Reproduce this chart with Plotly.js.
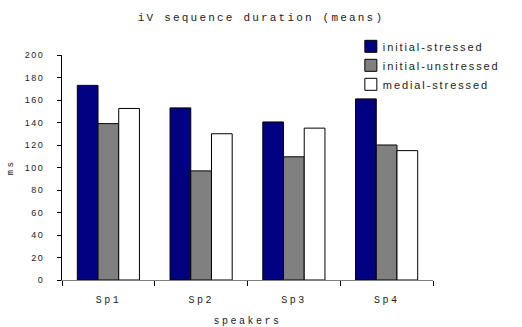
<!DOCTYPE html>
<html>
<head>
<meta charset="utf-8">
<script src="https://cdn.plot.ly/plotly-3.0.1.min.js"></script>
<style>
html,body{margin:0;padding:0;background:#fff;}
#chart{width:522px;height:327px;}
.gtitle{letter-spacing:2.2px;}
.xtitle,.ytitle{letter-spacing:2.5px;}
.xtick text{letter-spacing:2.5px;}
.ytick text{letter-spacing:1.5px;}
.legendtext{letter-spacing:1.9px;}
.legendsymbols{transform:translateX(8px);}
</style>
</head>
<body>
<div id="chart"></div>
<script>
var speakers = ["Sp1", "Sp2", "Sp3", "Sp4"];
var seriesNames = ["initial-stressed", "initial-unstressed", "medial-stressed"];
var initialStressed = [173, 153, 140.5, 161];
var initialUnstressed = [139, 97, 109.5, 120];
var medialStressed = [152.5, 130, 135, 115];
var seriesColors = ["#000080", "#808080", "#ffffff"];
var yTicks = [0, 20, 40, 60, 80, 100, 120, 140, 160, 180, 200];

var values = [initialStressed, initialUnstressed, medialStressed];
var traces = values.map(function (v, i) {
  return {
    type: "bar",
    name: seriesNames[i],
    x: speakers,
    y: v,
    marker: {color: seriesColors[i], line: {color: "#000000", width: 1}}
  };
});

var layout = {
  width: 522,
  height: 327,
  paper_bgcolor: "#ffffff",
  plot_bgcolor: "#ffffff",
  margin: {l: 62, r: 89, t: 54.5, b: 46.5},
  barmode: "group",
  bargap: 0.33,
  bargroupgap: 0,
  font: {family: "Liberation Sans, Arial, sans-serif", color: "#222222", size: 9},
  title: {
    text: "iV sequence duration (means)",
    font: {family: "Liberation Mono, Courier New, monospace", size: 11, color: "#222222"},
    x: 0.5, xref: "container", xanchor: "center",
    y: 0.948, yref: "container", yanchor: "middle"
  },
  xaxis: {
    type: "category",
    showline: true,
    linecolor: "#808080",
    linewidth: 1,
    ticks: "outside",
    tickson: "boundaries",
    ticklen: 5,
    tickcolor: "#000000",
    tickwidth: 1,
    showgrid: false,
    zeroline: false,
    ticklabelstandoff: 10,
    tickfont: {family: "Liberation Mono, Courier New, monospace", size: 10, color: "#222222"},
    title: {
      text: "speakers",
      font: {family: "Liberation Mono, Courier New, monospace", size: 10, color: "#222222"},
      standoff: 12
    }
  },
  yaxis: {
    range: [0, 200],
    tickvals: yTicks,
    showline: true,
    linecolor: "#000000",
    linewidth: 1,
    ticks: "outside",
    ticklen: 4,
    tickcolor: "#000000",
    showgrid: false,
    zeroline: false,
    ticklabelstandoff: 11,
    tickfont: {family: "Liberation Sans, Arial, sans-serif", size: 9, color: "#222222"},
    title: {
      text: "ms",
      font: {family: "Liberation Mono, Courier New, monospace", size: 9, color: "#222222"},
      standoff: 9
    }
  },
  showlegend: true,
  legend: {
    x: 0.757, xref: "paper", xanchor: "left",
    y: 1.103, yref: "paper", yanchor: "top",
    bgcolor: "rgba(0,0,0,0)",
    borderwidth: 0,
    font: {family: "Liberation Sans, Arial, sans-serif", size: 11, color: "#222222"},
    itemwidth: 30,
    traceorder: "normal"
  }
};

Plotly.newPlot("chart", traces, layout, {displayModeBar: false, staticPlot: true});
</script>
</body>
</html>
